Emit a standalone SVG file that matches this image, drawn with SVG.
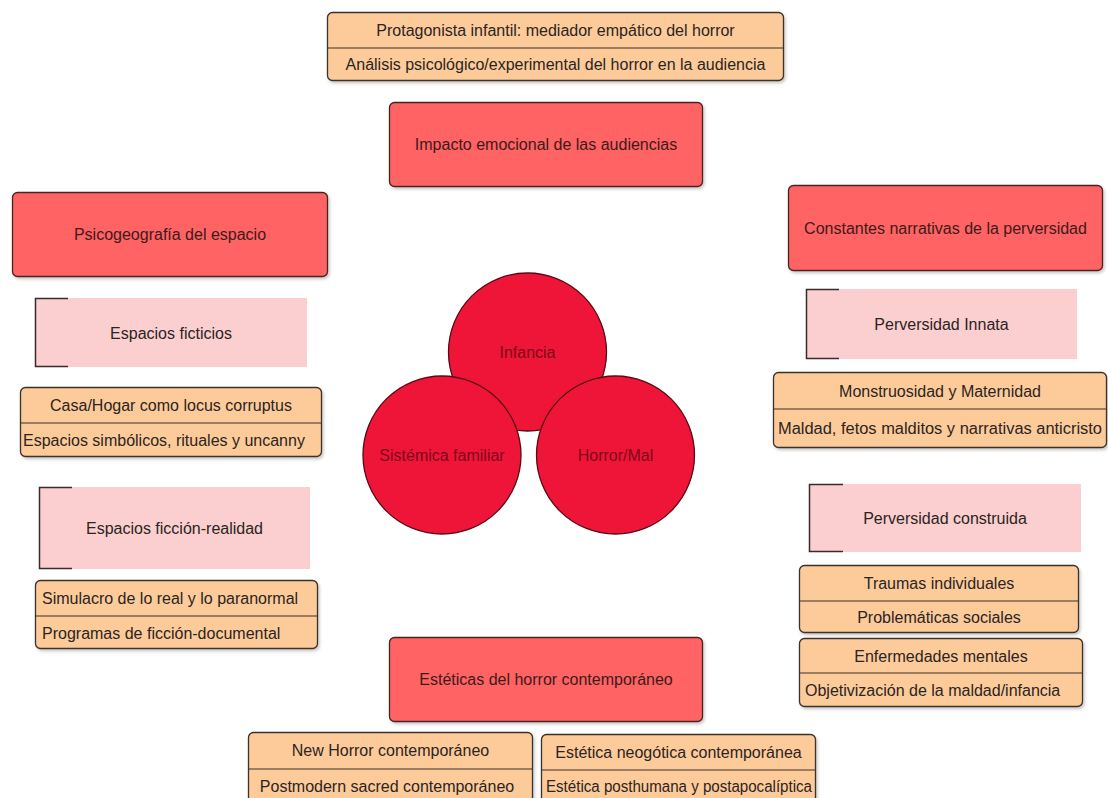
<svg xmlns="http://www.w3.org/2000/svg" width="1108" height="798" viewBox="0 0 1108 798">
<defs>
<filter id="sh" x="-5%" y="-10%" width="115%" height="130%">
<feDropShadow dx="1.5" dy="2" stdDeviation="1.5" flood-color="#000" flood-opacity="0.22"/>
</filter>
<style>
text{font-family:"Liberation Sans",Arial,sans-serif;font-size:16px;}
.red{fill:#FF6464;stroke:#4a2222;stroke-width:1.3;filter:url(#sh);}
.org{fill:#FDCB9A;stroke:#3a302a;stroke-width:1.3;filter:url(#sh);}
.div{stroke:#3a302a;stroke-width:1.2;}
.pink{fill:#FBCFCF;}
.br{fill:none;stroke:#3a2a2a;stroke-width:1.5;}
.circ{fill:#EE1539;stroke:#5a0a14;stroke-width:1.3;}
.tr{fill:#3d1a1a;text-anchor:middle;}
.to{fill:#2a2422;text-anchor:middle;}
.tl{fill:#2a2422;text-anchor:start;}
.tc{fill:#7e0818;text-anchor:middle;font-size:16px;}
</style>
</defs>
<rect width="1108" height="798" fill="#ffffff"/>
<g id="connectors"/>

<g id="top-list">
<rect class="org" x="327.5" y="12.5" width="456" height="68" rx="5"/>
<line class="div" x1="327.5" y1="48" x2="783.5" y2="48"/>
<text class="to" x="555.5" y="35.5">Protagonista infantil: mediador empático del horror</text>
<text class="to" x="555.5" y="70">Análisis psicológico/experimental del horror en la audiencia</text>
</g>

<g id="impacto">
<rect class="red" x="389.5" y="102.5" width="313" height="84" rx="5"/>
<text class="tr" x="546" y="150">Impacto emocional de las audiencias</text>
</g>

<g id="psicogeografia">
<rect class="red" x="12.5" y="192.5" width="315" height="84" rx="5"/>
<text class="tr" x="170" y="240">Psicogeografía del espacio</text>
</g>

<g id="espacios-ficticios">
<rect class="pink" x="35" y="298" width="272" height="69"/>
<polyline class="br" points="68,298.5 35.5,298.5 35.5,366.5 68,366.5"/>
<text class="to" x="171" y="339">Espacios ficticios</text>
</g>

<g id="casa-list">
<rect class="org" x="20.5" y="387.5" width="301" height="69" rx="5"/>
<line class="div" x1="20.5" y1="423" x2="321.5" y2="423"/>
<text class="to" x="171" y="411">Casa/Hogar como locus corruptus</text>
<text class="tl" x="23" y="446">Espacios simbólicos, rituales y uncanny</text>
</g>

<g id="espacios-ficcion-realidad">
<rect class="pink" x="39" y="487" width="271" height="82"/>
<polyline class="br" points="72,487.5 39.5,487.5 39.5,568.5 72,568.5"/>
<text class="to" x="174.5" y="534">Espacios ficción-realidad</text>
</g>

<g id="simulacro-list">
<rect class="org" x="35.5" y="580.5" width="282" height="68" rx="5"/>
<line class="div" x1="35.5" y1="616" x2="317.5" y2="616"/>
<text class="tl" x="42" y="604">Simulacro de lo real y lo paranormal</text>
<text class="tl" x="42" y="638.5">Programas de ficción-documental</text>
</g>

<g id="constantes">
<rect class="red" x="788.5" y="185.5" width="314" height="85" rx="5"/>
<text class="tr" x="945.5" y="233.5">Constantes narrativas de la perversidad</text>
</g>

<g id="perversidad-innata">
<rect class="pink" x="806" y="289" width="271" height="70"/>
<polyline class="br" points="839,289.5 806.5,289.5 806.5,358.5 839,358.5"/>
<text class="to" x="941.5" y="330">Perversidad Innata</text>
</g>

<g id="monstruosidad-list">
<rect class="org" x="773.5" y="372.5" width="333" height="75" rx="5"/>
<line class="div" x1="773.5" y1="409" x2="1106.5" y2="409"/>
<text class="to" x="940" y="396.5">Monstruosidad y Maternidad</text>
<text class="tl" x="778" y="434" textLength="324" lengthAdjust="spacingAndGlyphs">Maldad, fetos malditos y narrativas anticristo</text>
</g>

<g id="perversidad-construida">
<rect class="pink" x="809" y="484" width="272" height="68"/>
<polyline class="br" points="843,484.5 809.5,484.5 809.5,551.5 843,551.5"/>
<text class="to" x="945" y="524">Perversidad construida</text>
</g>

<g id="traumas-list">
<rect class="org" x="799.5" y="565.5" width="279" height="67" rx="5"/>
<line class="div" x1="799.5" y1="601" x2="1078.5" y2="601"/>
<text class="to" x="939" y="589">Traumas individuales</text>
<text class="to" x="939" y="623">Problemáticas sociales</text>
</g>

<g id="enfermedades-list">
<rect class="org" x="799.5" y="638.5" width="283" height="68" rx="5"/>
<line class="div" x1="799.5" y1="673" x2="1082.5" y2="673"/>
<text class="to" x="941" y="661.5">Enfermedades mentales</text>
<text class="tl" x="805" y="696">Objetivización de la maldad/infancia</text>
</g>

<g id="esteticas">
<rect class="red" x="389.5" y="637.5" width="313" height="84" rx="5"/>
<text class="tr" x="546" y="685">Estéticas del horror contemporáneo</text>
</g>

<g id="new-horror-list">
<rect class="org" x="248.5" y="732.5" width="284" height="80" rx="5"/>
<line class="div" x1="248.5" y1="769" x2="532.5" y2="769"/>
<text class="to" x="390.5" y="756">New Horror contemporáneo</text>
<text class="to" x="387" y="792">Postmodern sacred contemporáneo</text>
</g>

<g id="neogotica-list">
<rect class="org" x="541.5" y="734.5" width="274" height="80" rx="5"/>
<line class="div" x1="541.5" y1="770" x2="815.5" y2="770"/>
<text class="to" x="678.5" y="757.5">Estética neogótica contemporánea</text>
<text class="tl" x="546" y="792" textLength="266" lengthAdjust="spacingAndGlyphs">Estética posthumana y postapocalíptica</text>
</g>

<g id="infancia">
<circle class="circ" cx="527.5" cy="352" r="79"/>
<text class="tc" x="527.5" y="358">Infancia</text>
</g>
<g id="sistemica-familiar">
<circle class="circ" cx="442" cy="455" r="79"/>
<text class="tc" x="442" y="461">Sistémica familiar</text>
</g>
<g id="horror-mal">
<circle class="circ" cx="615.5" cy="455" r="79"/>
<text class="tc" x="615.5" y="461">Horror/Mal</text>
</g>
</svg>
